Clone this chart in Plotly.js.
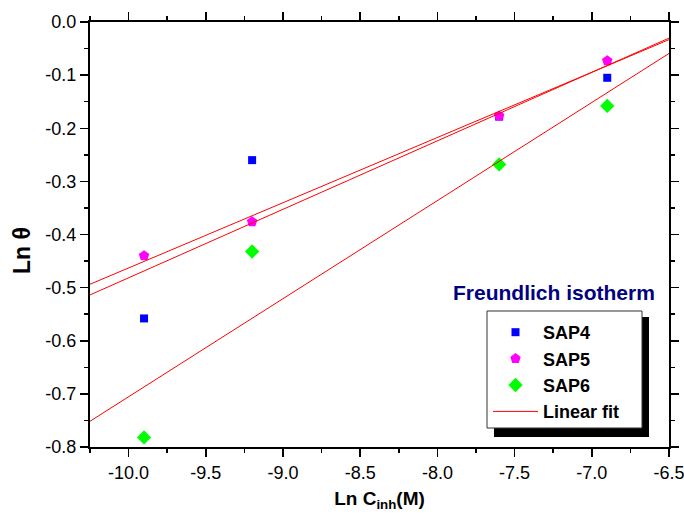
<!DOCTYPE html>
<html>
<head>
<meta charset="utf-8">
<script src="https://cdn.plot.ly/plotly-3.0.1.min.js"></script>
<style>html,body{margin:0;padding:0;background:#fff;}#chart{width:684px;height:516px;}</style>
</head>
<body>
<div id="chart"></div>
<script>
// Data
var lnC = [-9.9, -9.2, -7.6, -6.9];
var sap4 = [-0.558, -0.260, -0.178, -0.105];
var sap5 = [-0.440, -0.376, -0.177, -0.073];
var sap6 = [-0.782, -0.432, -0.268, -0.158];
var xTickVals = [-10.0, -9.5, -9.0, -8.5, -8.0, -7.5, -7.0, -6.5];
var xTickText = ["-10.0", "-9.5", "-9.0", "-8.5", "-8.0", "-7.5", "-7.0", "-6.5"];
var yTickVals = [0.0, -0.1, -0.2, -0.3, -0.4, -0.5, -0.6, -0.7, -0.8];
var yTickText = ["0.0", "-0.1", "-0.2", "-0.3", "-0.4", "-0.5", "-0.6", "-0.7", "-0.8"];
var xRange = [-10.25, -6.5];
var yRange = [-0.8, 0.0];

// least-squares linear fit drawn across the full x range
function fitLine(xs, ys) {
  var n = xs.length, mx = 0, my = 0;
  for (var i = 0; i < n; i++) { mx += xs[i]; my += ys[i]; }
  mx /= n; my /= n;
  var sxy = 0, sxx = 0;
  for (var j = 0; j < n; j++) { sxy += (xs[j] - mx) * (ys[j] - my); sxx += (xs[j] - mx) * (xs[j] - mx); }
  var b = sxy / sxx, a = my - b * mx;
  return { x: xRange.slice(), y: xRange.map(function (v) { return a + b * v; }) };
}

var font = "Liberation Sans, Arial, sans-serif";
var f4 = fitLine(lnC, sap4), f5 = fitLine(lnC, sap5), f6 = fitLine(lnC, sap6);

var traces = [
  { x: lnC, y: sap4, mode: "markers", name: "SAP4", type: "scatter",
    marker: { symbol: "square", size: 8, color: "#0000ff" } },
  { x: lnC, y: sap5, mode: "markers", name: "SAP5", type: "scatter",
    marker: { symbol: "pentagon", size: 11, color: "#ff00ff" } },
  { x: lnC, y: sap6, mode: "markers", name: "SAP6", type: "scatter",
    marker: { symbol: "diamond", size: 11, color: "#00ff00" } },
  { x: f4.x, y: f4.y, mode: "lines", name: "Linear fit", type: "scatter",
    line: { color: "#ff0000", width: 1 }, showlegend: true },
  { x: f5.x, y: f5.y, mode: "lines", name: "Linear fit", type: "scatter",
    line: { color: "#ff0000", width: 1 }, showlegend: false },
  { x: f6.x, y: f6.y, mode: "lines", name: "Linear fit", type: "scatter",
    line: { color: "#ff0000", width: 1 }, showlegend: false }
];

function px2x(p) { return (p - 90) / 579; }
function py2y(p) { return (447 - p) / 425; }

var layout = {
  width: 684, height: 516,
  margin: { l: 90, r: 15, t: 22, b: 69 },
  paper_bgcolor: "#ffffff", plot_bgcolor: "#ffffff",
  font: { family: font, color: "#000" },
  showlegend: true,
  xaxis: {
    range: xRange, tickvals: xTickVals, ticktext: xTickText,
    ticks: "outside", ticklen: 8, tickwidth: 1.5, tickcolor: "#000",
    minor: { dtick: 0.25, ticks: "outside", ticklen: 4, tickwidth: 1.5, tickcolor: "#000", showgrid: false },
    showline: true, linewidth: 2, linecolor: "#000", mirror: "ticks",
    showgrid: false, zeroline: false, ticklabeloverflow: "allow",
    tickfont: { size: 18, family: font, color: "#000" },
    title: { text: "<b>Ln C<sub>inh</sub>(M)</b>", font: { size: 19, family: font, color: "#000" }, standoff: 10 }
  },
  yaxis: {
    range: yRange, tickvals: yTickVals, ticktext: yTickText,
    ticks: "outside", ticklen: 8, tickwidth: 1.5, tickcolor: "#000",
    minor: { dtick: 0.05, ticks: "outside", ticklen: 4, tickwidth: 1.5, tickcolor: "#000", showgrid: false },
    showline: true, linewidth: 2, linecolor: "#000", mirror: "ticks",
    showgrid: false, zeroline: false, ticklabeloverflow: "allow",
    tickfont: { size: 18, family: font, color: "#000" }
  },
  legend: {
    x: px2x(488), y: py2y(314), xanchor: "left", yanchor: "top",
    bgcolor: "rgba(0,0,0,0)", borderwidth: 0,
    font: { size: 18, family: font, color: "#000", weight: "bold" },
    itemwidth: 45, tracegroupgap: 0
  },
  shapes: [
    { type: "rect", xref: "paper", yref: "paper", layer: "above",
      x0: px2x(494), x1: px2x(649), y0: py2y(437), y1: py2y(317),
      fillcolor: "#000", line: { width: 0 } },
    { type: "rect", xref: "paper", yref: "paper", layer: "above",
      x0: px2x(487), x1: px2x(642), y0: py2y(428), y1: py2y(311),
      fillcolor: "#fff", line: { width: 1, color: "#333" } }
  ],
  annotations: [
    { xref: "paper", yref: "paper", x: px2x(554), y: py2y(292), xanchor: "center", yanchor: "middle",
      text: "<b>Freundlich isotherm</b>", showarrow: false,
      font: { size: 21, family: font, color: "#000080" } },
    { xref: "paper", yref: "paper", x: px2x(22), y: py2y(251), xanchor: "center", yanchor: "middle",
      text: "<b>Ln θ</b>", showarrow: false, textangle: -90,
      font: { size: 23, family: font, color: "#000" } }
  ]
};

Plotly.newPlot("chart", traces, layout, { displayModeBar: false, staticPlot: true });
</script>
</body>
</html>
